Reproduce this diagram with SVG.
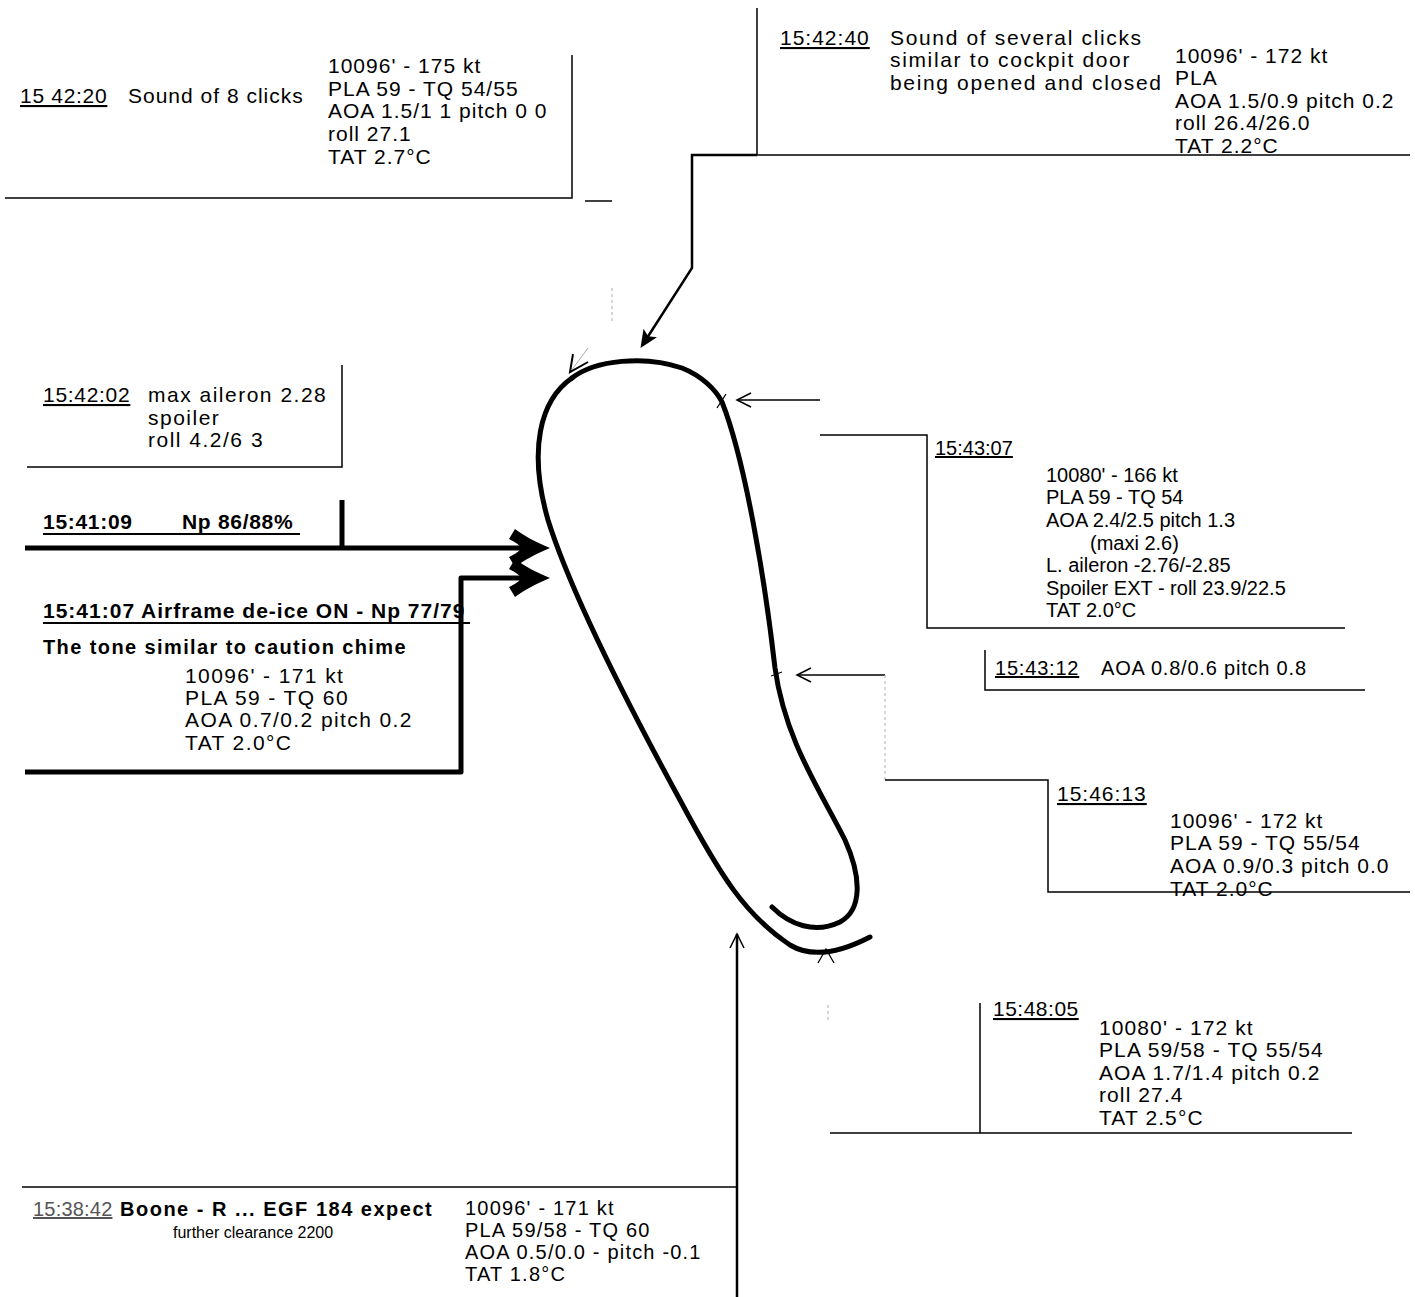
<svg xmlns="http://www.w3.org/2000/svg" width="1415" height="1297" viewBox="0 0 1415 1297">
<style>
text{font-family:"Liberation Sans",Arial,Helvetica,sans-serif;font-size:20px;fill:#000}
.w1{letter-spacing:1px;font-size:21px}
.w2{letter-spacing:1.4px;font-size:21px}
.n{font-size:20px}
.b{font-weight:bold}
.u{text-decoration:underline}
.box{fill:none;stroke:#000;stroke-width:1.5}
.thick{fill:none;stroke:#000;stroke-width:5;stroke-linejoin:round}
.loop{fill:none;stroke:#000;stroke-width:5;stroke-linecap:round}
.thin{fill:none;stroke:#000;stroke-width:1.3}
.faint{fill:none;stroke:#bbb;stroke-width:1.2;stroke-dasharray:3 3}
</style>
<defs>
<marker id="big" markerUnits="userSpaceOnUse" markerWidth="60" markerHeight="50" viewBox="-25 -25 60 50" refX="0" refY="0" orient="auto" overflow="visible">
<path d="M26,0 C12,-6 0,-12 -9,-19 L-15,-9 C-9,-6 -4,-3 -3,0 C-4,3 -9,6 -15,9 L-9,19 C0,12 12,6 26,0 Z" fill="#000"/>
</marker>
<marker id="mid" markerUnits="userSpaceOnUse" markerWidth="30" markerHeight="30" viewBox="-15 -15 30 30" refX="0" refY="0" orient="auto" overflow="visible">
<path d="M12,0 L-6,-8 L-2,0 L-6,8 Z" fill="#000"/>
</marker>
<marker id="open" markerUnits="userSpaceOnUse" markerWidth="30" markerHeight="30" viewBox="-15 -15 30 30" refX="0" refY="0" orient="auto" overflow="visible">
<path d="M-14,-7 L0,0 L-14,7" fill="none" stroke="#000" stroke-width="1.5"/>
</marker>
<clipPath id="clip107"><rect x="0" y="590" width="468" height="40"/></clipPath>
</defs>

<g id="loop">
<path class="loop" d="M572,378 C595,360 645,355 682,368 C702,376 716,390 722,402 C745,460 765,580 775,668 C785,740 820,790 845,840 C862,878 862,910 840,922 C815,934 790,925 772,907"/>
<path class="loop" d="M572,378 C540,400 528,450 548,520 C570,590 620,690 680,800 C720,875 745,915 790,945 C815,960 845,950 870,937"/>
<path class="thin" stroke-width="2" d="M717,408 L726,394 M771,676 L782,672"/>
</g>

<g id="connectors">
<path class="thick" d="M25,548 H524" marker-end="url(#big)"/>
<path class="thick" d="M342,500 V548"/>
<path class="thick" d="M25,772 H461 V578 H524" marker-end="url(#big)"/>
<path fill="none" stroke="#000" stroke-width="2.5" d="M757,155 H692 V268 L647,338" marker-end="url(#mid)"/>
<path class="thin" d="M820,400 H737" marker-end="url(#open)"/>
<path class="thin" d="M885,675 H797" marker-end="url(#open)"/>
<path class="faint" d="M885,675 V780"/>
<path fill="none" stroke="#000" stroke-width="2.5" d="M737,1297 V934" marker-end="url(#open)"/>
<path class="thin" stroke-width="1.8" d="M818,963 L826,949 L834,963"/>
<path class="faint" d="M612,288 V322"/>
<path fill="none" stroke="#aaa" stroke-width="1" d="M588,348 L571,371"/>
<path fill="none" stroke="#000" stroke-width="2" d="M573,354 L570,372 L588,362"/>
<path class="faint" d="M828,1005 V1022"/>
</g>

<g id="n154220">
<path class="box" d="M5,198 H572 V55"/>
<path class="box" d="M585,201 H612" stroke="#666"/>
<text x="20" y="103" class="w1 u" style="letter-spacing:0.7px">15 42:20</text>
<text x="128" y="103" class="w1">Sound of 8 clicks</text>
<text x="328" y="73" class="w1">10096' - 175 kt</text>
<text x="328" y="96" class="w1">PLA 59 - TQ 54/55</text>
<text x="328" y="118" class="w1">AOA 1.5/1 1 pitch 0 0</text>
<text x="328" y="141" class="w1">roll 27.1</text>
<text x="328" y="164" class="w1">TAT 2.7°C</text>
</g>

<g id="n154240">
<path class="box" d="M757,8 V155 H1410"/>
<text x="780" y="45" class="w1 u">15:42:40</text>
<text x="890" y="45" class="w1" style="letter-spacing:1.65px">Sound of several clicks</text>
<text x="890" y="67" class="w1" style="letter-spacing:1.65px">similar to cockpit door</text>
<text x="890" y="90" class="w1" style="letter-spacing:1.65px">being opened and closed</text>
<text x="1175" y="63" class="w1">10096' - 172 kt</text>
<text x="1175" y="85" class="w1">PLA</text>
<text x="1175" y="108" class="w1">AOA 1.5/0.9 pitch 0.2</text>
<text x="1175" y="130" class="w1">roll 26.4/26.0</text>
<text x="1175" y="153" class="w1">TAT 2.2°C</text>
</g>

<g id="n154202">
<path class="box" d="M27,467 H342 V365"/>
<text x="43" y="402" class="w1 u" style="letter-spacing:0.7px">15:42:02</text>
<text x="148" y="402" class="w1" style="letter-spacing:1.5px">max aileron 2.28</text>
<text x="148" y="425" class="w1" style="letter-spacing:1.5px">spoiler</text>
<text x="148" y="447" class="w1" style="letter-spacing:1.5px">roll 4.2/6 3</text>
</g>

<g id="n154109">
<text x="43" y="529" class="b" style="font-size:21px;letter-spacing:0.7px">15:41:09</text>
<text x="182" y="529" class="b" style="font-size:21px;letter-spacing:0.7px">Np 86/88%</text>
<path d="M43,534 H300" stroke="#000" stroke-width="1.8"/>
</g>

<g id="n154107">
<text x="43" y="618" class="b" style="font-size:21px;letter-spacing:1px" clip-path="url(#clip107)">15:41:07 Airframe de-ice ON - Np 77/79</text>
<path d="M43,623 H470" stroke="#000" stroke-width="1.8"/>
<text x="43" y="654" class="b" style="letter-spacing:1.4px">The tone similar to caution chime</text>
<text x="185" y="683" class="w2">10096' - 171 kt</text>
<text x="185" y="705" class="w2">PLA 59 - TQ 60</text>
<text x="185" y="727" class="w2">AOA 0.7/0.2 pitch 0.2</text>
<text x="185" y="750" class="w2">TAT 2.0°C</text>
</g>

<g id="n154307">
<path class="box" d="M820,435 H927 V628 H1345"/>
<text x="935" y="455" class="n u">15:43:07</text>
<text x="1046" y="482" class="n">10080' - 166 kt</text>
<text x="1046" y="504" class="n">PLA 59 - TQ 54</text>
<text x="1046" y="527" class="n">AOA 2.4/2.5 pitch 1.3</text>
<text x="1090" y="550" class="n">(maxi 2.6)</text>
<text x="1046" y="572" class="n">L. aileron -2.76/-2.85</text>
<text x="1046" y="595" class="n">Spoiler EXT - roll 23.9/22.5</text>
<text x="1046" y="617" class="n">TAT 2.0°C</text>
</g>

<g id="n154312">
<path class="box" d="M985,650 V690 H1365"/>
<text x="995" y="675" class="n u" style="letter-spacing:0.8px">15:43:12</text>
<text x="1101" y="675" class="n" style="letter-spacing:0.8px">AOA 0.8/0.6 pitch 0.8</text>
</g>

<g id="n154613">
<path class="box" d="M885,780 H1048 V892 H1410"/>
<text x="1057" y="801" class="w1 u">15:46:13</text>
<text x="1170" y="828" class="w1">10096' - 172 kt</text>
<text x="1170" y="850" class="w1">PLA 59 - TQ 55/54</text>
<text x="1170" y="873" class="w1">AOA 0.9/0.3 pitch 0.0</text>
<text x="1170" y="896" class="w1">TAT 2.0°C</text>
</g>

<g id="n154805">
<path class="box" d="M980,1003 V1133 M830,1133 H1352"/>
<text x="993" y="1016" class="w1 u" style="letter-spacing:0.5px">15:48:05</text>
<text x="1099" y="1035" class="w1" style="letter-spacing:1.1px">10080' - 172 kt</text>
<text x="1099" y="1057" class="w1" style="letter-spacing:1.1px">PLA 59/58 - TQ 55/54</text>
<text x="1099" y="1080" class="w1" style="letter-spacing:1.1px">AOA 1.7/1.4 pitch 0.2</text>
<text x="1099" y="1102" class="w1" style="letter-spacing:1.1px">roll 27.4</text>
<text x="1099" y="1125" class="w1" style="letter-spacing:1.1px">TAT 2.5°C</text>
</g>

<g id="n153842">
<path class="box" d="M22,1187 H737"/>
<text x="33" y="1216" class="u" style="fill:#555;letter-spacing:0.2px">15:38:42</text>
<text x="120" y="1216" class="b" style="letter-spacing:1.5px">Boone - R ... EGF 184 expect</text>
<text x="173" y="1238" style="font-size:16px">further clearance 2200</text>
<text x="465" y="1215" style="letter-spacing:1.2px">10096' - 171 kt</text>
<text x="465" y="1237" style="letter-spacing:1.2px">PLA 59/58 - TQ 60</text>
<text x="465" y="1259" style="letter-spacing:1.2px">AOA 0.5/0.0 - pitch -0.1</text>
<text x="465" y="1281" style="letter-spacing:1.2px">TAT 1.8°C</text>
</g>
</svg>
